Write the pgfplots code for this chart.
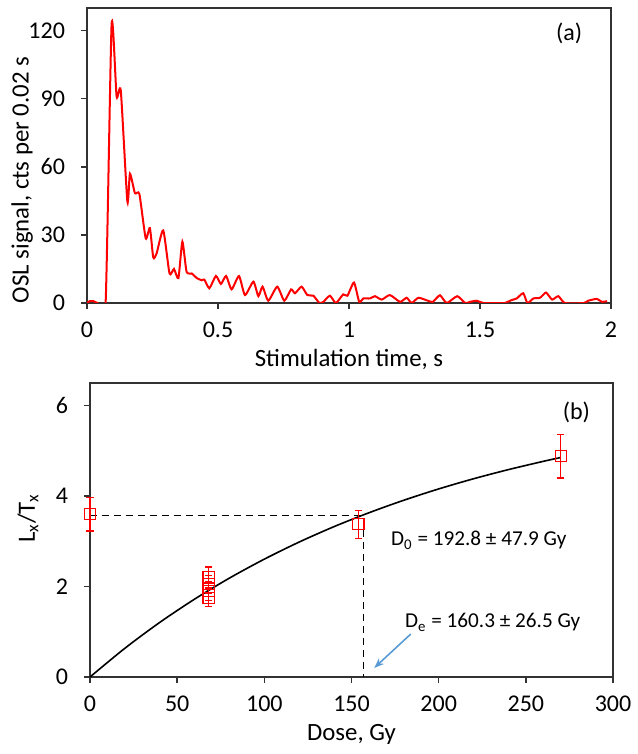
\documentclass[border=0pt]{standalone}
\usepackage{fontspec}
\setmainfont{Carlito}
\usepackage{pgfplots}
\pgfplotsset{compat=1.18}
\usetikzlibrary{arrows.meta}
\definecolor{arrowblue}{RGB}{91,155,213}
\definecolor{framegray}{RGB}{50,50,50}

\pgfplotsset{
  panel/.style={
    scale only axis,
    axis line style={framegray, line width=0.7pt},
    tick style={framegray, line width=0.7pt},
    tick align=outside,
    major tick length=3pt,
    xtick pos=bottom, ytick pos=left,
    /pgf/number format/assume math mode=true,
    tick label style={font=\fontsize{12}{14}\selectfont},
    label style={font=\fontsize{12.4}{15}\selectfont},
    xticklabel style={yshift=-3pt},
    yticklabel style={xshift=-4.5pt},
    ylabel style={anchor=center},
    xlabel style={anchor=center},
  }
}

\begin{document}
\begin{tikzpicture}[font=\fontsize{12}{14}\selectfont]
\path (-43.5pt,-225.5pt) rectangle (272.5pt,151.5pt);

% (a) OSL decay curve
\begin{axis}[panel,
  at={(0pt,0pt)}, anchor=south west,
  width=262pt, height=147.5pt,
  xmin=0, xmax=2, ymin=0, ymax=130,
  xtick={0,0.5,1,1.5,2},
  xticklabels={0,0.5,1,1.5,2},
  ytick={0,30,60,90,120},
  xlabel={Stimulation time, s},
  ylabel={OSL signal, cts per 0.02 s},
  xlabel style={at={(axis description cs:0.5,-0.193)}},
  ylabel style={at={(axis description cs:-0.124,0.417)}},
]
\addplot[red, line width=1pt, smooth, tension=0.35] coordinates {
(0,0) (0.01,0.8) (0.025,0.8) (0.04,0) (0.071,0) (0.094,123) (0.113,91)
(0.129,93.5) (0.154,44.7) (0.164,57) (0.183,48.4) (0.200,48) (0.224,28.5)
(0.240,33) (0.253,20) (0.266,22) (0.291,32) (0.315,13) (0.332,15)
(0.349,11) (0.364,27) (0.380,13.8) (0.400,13) (0.419,11) (0.438,10)
(0.448,10.3) (0.467,6.5) (0.492,11.9) (0.511,8.4) (0.531,11.9) (0.552,6)
(0.580,11.9) (0.603,3.5) (0.635,9.4) (0.654,3) (0.670,7.2) (0.692,1)
(0.726,7.2) (0.753,1) (0.779,6) (0.794,4.3) (0.819,7.2) (0.841,3.5)
(0.864,3.2) (0.887,0) (0.902,0.5) (0.927,3.2) (0.950,0) (0.978,3.8)
(0.994,3.2) (1.019,9) (1.039,0.5) (1.055,2) (1.080,2) (1.099,3)
(1.125,1.5) (1.156,3.5) (1.195,0.5) (1.220,2.3) (1.239,0) (1.265,2.3)
(1.301,1) (1.320,0.5) (1.347,3.4) (1.373,0) (1.413,3) (1.443,0)
(1.462,0.5) (1.487,1) (1.513,0) (1.574,0) (1.595,0) (1.621,1.3)
(1.640,2) (1.665,4.3) (1.681,0) (1.704,2) (1.729,2.3) (1.752,4.6)
(1.775,1.5) (1.799,3) (1.824,0) (1.896,0) (1.913,1) (1.945,1.8)
(1.966,0.5) (1.985,0.8)
};
\node at (axis cs:1.84,119) {(a)};
\end{axis}

% (b) dose response
\begin{axis}[panel,
  at={(1.5pt,-187pt)}, anchor=south west,
  width=261.5pt, height=147pt,
  xmin=0, xmax=300, ymin=0, ymax=6.5,
  xtick={0,50,100,150,200,250,300},
  ytick={0,2,4,6},
  xlabel={Dose, Gy},
  ylabel={L\textsubscript{x}/T\textsubscript{x}},
  xlabel style={at={(axis description cs:0.5,-0.197)}},
  ylabel style={at={(axis description cs:-0.1185,0.54)}},
  clip=false,
]
\addplot[black, line width=0.8pt, smooth] coordinates {
(0,0) (20,0.635) (40,1.207) (60,1.722) (80,2.187) (100,2.606) (120,2.984)
(140,3.325) (160,3.631) (180,3.908) (200,4.158) (220,4.383) (240,4.585)
(260,4.768) (270,4.853)
};
\addplot[black, line width=0.75pt, dash pattern=on 3.5pt off 2.5pt] coordinates {(0,3.57) (157,3.57) (157,0)};
\addplot[red, only marks, mark=square, mark size=2.8pt,
  mark options={line width=0.6pt},
  error bars/.cd, y dir=both, y explicit,
  error bar style={red, line width=0.6pt},
  error mark options={red, line width=0.6pt, mark size=1.8pt, rotate=90}]
  coordinates {
  (0,3.6) +- (0,0.37)
  (68,2.2) +- (0,0.23)
  (68,2.05) +- (0,0.2)
  (68,1.9) +- (0,0.2)
  (68,1.75) +- (0,0.2)
  (154,3.38) +- (0,0.31)
  (270,4.88) +- (0,0.48)
};
\draw[arrowblue, line width=0.8pt, -{Stealth[length=5pt]}] (axis cs:184,0.95) -- (axis cs:163,0.2);
\node[font=\fontsize{10.6}{13}\selectfont] at (axis cs:223,3.02) {D\textsubscript{0} = 192.8 ± 47.9 Gy};
\node[font=\fontsize{10.6}{13}\selectfont] at (axis cs:231,1.21) {D\textsubscript{e} = 160.3 ± 26.5 Gy};
\node at (axis cs:279,5.85) {(b)};
\end{axis}
\end{tikzpicture}
\end{document}
